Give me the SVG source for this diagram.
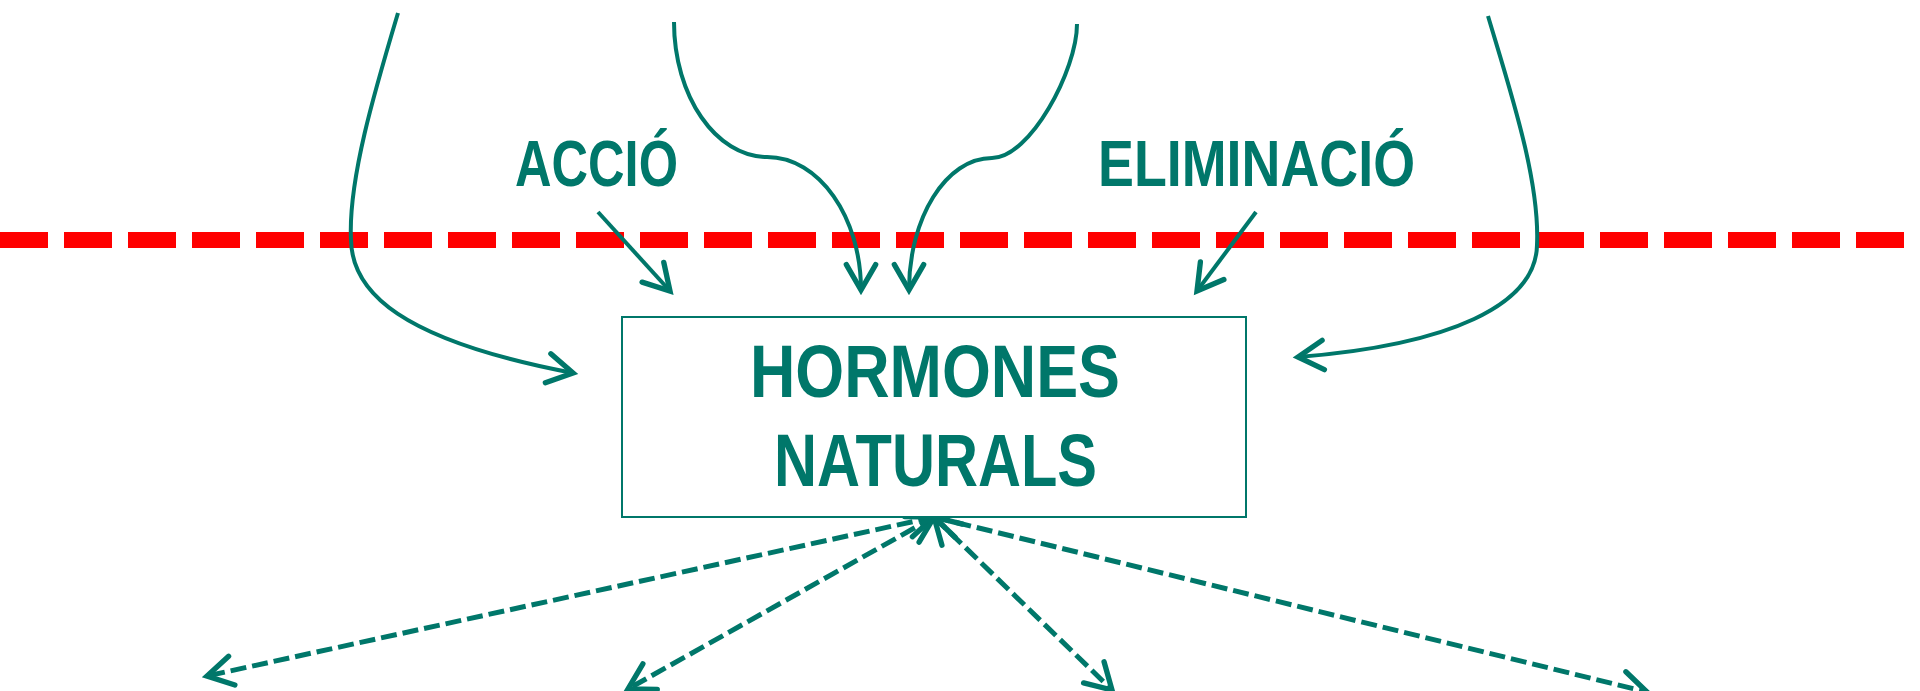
<svg xmlns="http://www.w3.org/2000/svg" width="1920" height="691" viewBox="0 0 1920 691">
  <style>
    .solid { fill: none; stroke: #00776A; stroke-width: 4; stroke-linecap: butt; }
    .dash { fill: none; stroke: #00776A; stroke-width: 5; stroke-dasharray: 16 6; }
    .lbl { fill: #00776A; font-family: "Liberation Sans Narrow", "Liberation Sans", Arial, sans-serif; font-weight: bold; }
    .node { fill: #FFFFFF; stroke: #00776A; stroke-width: 2; }
  </style>
  <defs>
    <marker id="ah" markerUnits="userSpaceOnUse" markerWidth="40" markerHeight="40" viewBox="-25 -15 30 30" refX="0" refY="0" orient="auto" overflow="visible">
      <path d="M-19,-11 L0,0 L-19,11" fill="none" stroke="#00776A" stroke-width="4" stroke-linecap="round" stroke-linejoin="miter"/>
    </marker>
    <marker id="ahs" markerUnits="userSpaceOnUse" markerWidth="40" markerHeight="40" viewBox="-25 -15 30 30" refX="0" refY="0" orient="auto-start-reverse" overflow="visible">
      <path d="M-19,-11 L0,0 L-19,11" fill="none" stroke="#00776A" stroke-width="4" stroke-linecap="round" stroke-linejoin="miter"/>
    </marker>
  </defs>
  <rect x="0" y="0" width="1920" height="691" fill="#FFFFFF"/>

  <g id="boundary">
    <line x1="0" y1="240" x2="1904" y2="240" stroke="#FF0000" stroke-width="16" stroke-dasharray="48 16"/>
  </g>

  <g id="connectors">
    <path class="solid" marker-end="url(#ah)" d="M398,13 C375,90 348,180 351,240 C352,292 400,340 573,373"/>
    <path class="solid" marker-end="url(#ah)" d="M1488,16 C1510,90 1540,180 1537,245 C1536,305 1450,345 1298,357"/>
    <path class="solid" marker-end="url(#ah)" d="M674,22 C674,96 716,157 767,157 C819,157 861,217 861,290"/>
    <path class="solid" marker-end="url(#ah)" d="M1077,24 C1077,70 1030,158 992,158 C946,158 909,218 909,290"/>
    <path class="solid" marker-end="url(#ah)" d="M598,212 L670,291"/>
    <path class="solid" marker-end="url(#ah)" d="M1256,212 L1197,291"/>
    <path class="dash" marker-start="url(#ahs)" marker-end="url(#ah)" d="M934,517 L207,676"/>
    <path class="dash" marker-start="url(#ahs)" marker-end="url(#ah)" d="M934,517 L628,689"/>
    <path class="dash" marker-start="url(#ahs)" marker-end="url(#ah)" d="M934,517 L1112,690"/>
    <path class="dash" marker-start="url(#ahs)" marker-end="url(#ah)" d="M934,517 L1647,692"/>
  </g>

  <g id="label-accio">
    <text class="lbl" x="515" y="186" font-size="64" textLength="163" lengthAdjust="spacingAndGlyphs">ACCIÓ</text>
  </g>
  <g id="label-eliminacio">
    <text class="lbl" x="1098" y="186" font-size="64" textLength="317" lengthAdjust="spacingAndGlyphs">ELIMINACIÓ</text>
  </g>

  <g id="node-hormones">
    <rect class="node" x="622" y="317" width="624" height="200"/>
    <text class="lbl" x="750" y="397" font-size="75" textLength="370" lengthAdjust="spacingAndGlyphs">HORMONES</text>
    <text class="lbl" x="774" y="486" font-size="75" textLength="323" lengthAdjust="spacingAndGlyphs">NATURALS</text>
  </g>
</svg>
